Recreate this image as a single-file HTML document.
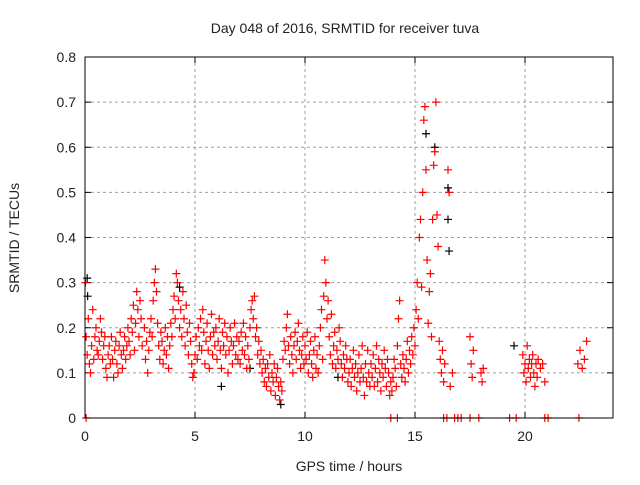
<!DOCTYPE html>
<html><head><meta charset="utf-8"><style>
body{margin:0;background:#fff}
svg text{font-family:"Liberation Sans",sans-serif;font-size:14px;fill:#222}
</style></head><body>
<svg id="c" width="640" height="480" xmlns="http://www.w3.org/2000/svg">
<text x="345" y="33" text-anchor="middle">Day 048 of 2016, SRMTID for receiver tuva</text>
<text x="349" y="471" text-anchor="middle">GPS time / hours</text>
<text transform="translate(19,238) rotate(-90)" text-anchor="middle">SRMTID / TECUs</text>
<g id="grid"></g><g id="marks"></g>
<rect x="85" y="57" width="528" height="361" fill="none" stroke="#000" stroke-width="1"/>
</svg>
<script>
const xTicks=[0,5,10,15,20];
const yTicks=[0,0.1,0.2,0.3,0.4,0.5,0.6,0.7,0.8];
const yTickLabels=["0","0.1","0.2","0.3","0.4","0.5","0.6","0.7","0.8"];
const blackPts=[[0.1,0.31],[0.12,0.27],[15.5,0.63],[16.5,0.44],[16.55,0.37],[16.5,0.51],[19.5,0.16],[8.9,0.03],[7.5,0.11],[11.5,0.09],[15.9,0.6],[4.3,0.29],[6.2,0.07]];
const redPts=[[0.02,0.30],[0.05,0.18],[0.1,0.14],[0.15,0.22],[0.2,0.12],[0.25,0.10],[0.3,0.16],[0.35,0.24],[0.4,0.13],[0.45,0.18],[0.5,0.20],[0.55,0.15],[0.6,0.14],[0.65,0.17],[0.7,0.22],[0.75,0.19],[0.8,0.13],[0.85,0.16],[0.9,0.18],[0.95,0.11],
[1.0,0.09],[1.05,0.14],[1.1,0.16],[1.15,0.12],[1.2,0.18],[1.25,0.13],[1.3,0.09],[1.35,0.15],[1.4,0.17],[1.45,0.12],[1.5,0.10],[1.55,0.16],[1.6,0.19],[1.65,0.14],[1.7,0.11],[1.75,0.15],[1.8,0.18],[1.85,0.13],[1.9,0.16],[1.95,0.20],
[2.0,0.17],[2.05,0.14],[2.1,0.22],[2.15,0.19],[2.2,0.25],[2.25,0.15],[2.3,0.21],[2.35,0.28],[2.4,0.24],[2.45,0.18],[2.5,0.26],[2.55,0.22],[2.6,0.16],[2.7,0.20],[2.75,0.13],[2.8,0.17],[2.85,0.10],[2.9,0.15],[2.95,0.19],
[3.0,0.22],[3.05,0.18],[3.1,0.26],[3.15,0.30],[3.2,0.33],[3.25,0.28],[3.3,0.21],[3.35,0.16],[3.4,0.13],[3.45,0.19],[3.5,0.17],[3.55,0.12],[3.6,0.15],[3.65,0.20],[3.7,0.14],[3.75,0.18],[3.8,0.11],[3.85,0.16],[3.9,0.21],[3.95,0.18],
[4.0,0.24],[4.05,0.27],[4.1,0.22],[4.15,0.32],[4.2,0.30],[4.25,0.26],[4.3,0.20],[4.35,0.24],[4.4,0.18],[4.45,0.28],[4.5,0.22],[4.55,0.16],[4.6,0.25],[4.65,0.19],[4.7,0.14],[4.75,0.21],[4.8,0.17],[4.85,0.12],[4.9,0.09],[4.95,0.10],
[5.0,0.14],[5.05,0.18],[5.1,0.13],[5.15,0.20],[5.2,0.16],[5.25,0.22],[5.3,0.15],[5.35,0.24],[5.4,0.19],[5.45,0.12],[5.5,0.17],[5.55,0.21],[5.6,0.15],[5.65,0.11],[5.7,0.18],[5.75,0.23],[5.8,0.14],[5.85,0.19],[5.9,0.16],[5.95,0.20],
[6.0,0.13],[6.05,0.17],[6.1,0.22],[6.15,0.15],[6.2,0.11],[6.25,0.19],[6.3,0.16],[6.35,0.21],[6.4,0.14],[6.45,0.18],[6.5,0.10],[6.55,0.15],[6.6,0.20],[6.65,0.17],[6.7,0.12],[6.75,0.16],[6.8,0.21],[6.85,0.14],[6.9,0.18],[6.95,0.13],
[7.0,0.17],[7.05,0.12],[7.1,0.19],[7.15,0.15],[7.2,0.21],[7.25,0.14],[7.3,0.18],[7.35,0.11],[7.4,0.16],[7.45,0.13],[7.5,0.20],[7.55,0.24],[7.6,0.26],[7.65,0.22],[7.7,0.27],[7.75,0.18],[7.8,0.20],[7.85,0.14],[7.9,0.17],[7.95,0.12],
[8.0,0.15],[8.05,0.10],[8.1,0.13],[8.15,0.08],[8.2,0.11],[8.25,0.07],[8.3,0.12],[8.35,0.09],[8.4,0.14],[8.45,0.06],[8.5,0.10],[8.55,0.08],[8.6,0.12],[8.65,0.05],[8.7,0.09],[8.75,0.11],[8.8,0.07],[8.85,0.04],[8.9,0.08],[8.95,0.06],
[9.0,0.13],[9.05,0.17],[9.1,0.15],[9.15,0.20],[9.2,0.23],[9.25,0.16],[9.3,0.12],[9.35,0.18],[9.4,0.14],[9.45,0.10],[9.5,0.16],[9.55,0.19],[9.6,0.13],[9.65,0.17],[9.7,0.21],[9.75,0.15],[9.8,0.11],[9.85,0.14],[9.9,0.18],[9.95,0.12],
[10.0,0.16],[10.05,0.13],[10.1,0.19],[10.15,0.10],[10.2,0.14],[10.25,0.17],[10.3,0.12],[10.35,0.09],[10.4,0.15],[10.45,0.18],[10.5,0.11],[10.55,0.14],[10.6,0.10],[10.65,0.16],[10.7,0.20],[10.75,0.24],[10.8,0.13],[10.85,0.27],[10.9,0.35],[10.95,0.30],
[11.0,0.22],[11.05,0.26],[11.1,0.18],[11.15,0.14],[11.2,0.23],[11.25,0.12],[11.3,0.16],[11.35,0.19],[11.4,0.11],[11.45,0.15],[11.5,0.13],[11.55,0.20],[11.6,0.17],[11.65,0.12],[11.7,0.09],[11.75,0.14],[11.8,0.11],[11.85,0.16],[11.9,0.13],[11.95,0.08],
[12.0,0.10],[12.05,0.13],[12.1,0.07],[12.15,0.11],[12.2,0.15],[12.25,0.09],[12.3,0.12],[12.35,0.06],[12.4,0.10],[12.45,0.14],[12.5,0.08],[12.55,0.11],[12.6,0.16],[12.65,0.09],[12.7,0.05],[12.75,0.12],[12.8,0.08],[12.85,0.15],[12.9,0.10],[12.95,0.07],
[13.0,0.12],[13.05,0.09],[13.1,0.14],[13.15,0.07],[13.2,0.11],[13.25,0.16],[13.3,0.08],[13.35,0.13],[13.4,0.10],[13.45,0.06],[13.5,0.12],[13.55,0.09],[13.6,0.15],[13.65,0.11],[13.7,0.07],[13.75,0.13],[13.8,0.10],[13.85,0.05],[13.9,0.08],[13.95,0.06],
[14.0,0.09],[14.05,0.13],[14.1,0.11],[14.15,0.07],[14.2,0.16],[14.25,0.22],[14.3,0.26],[14.35,0.12],[14.4,0.09],[14.45,0.14],[14.5,0.11],[14.55,0.08],[14.6,0.13],[14.65,0.17],[14.7,0.10],[14.75,0.15],[14.8,0.12],[14.85,0.18],[14.9,0.14],[14.95,0.20],
[15.0,0.16],[15.05,0.24],[15.1,0.30],[15.15,0.22],[15.2,0.40],[15.25,0.44],[15.3,0.29],[15.35,0.50],[15.4,0.66],[15.45,0.69],[15.5,0.55],[15.55,0.35],[15.6,0.21],[15.65,0.28],[15.7,0.32],[15.75,0.18],[15.8,0.44],[15.85,0.56],[15.9,0.59],[15.95,0.70],
[16.0,0.45],[16.05,0.38],[16.1,0.17],[16.15,0.13],[16.2,0.10],[16.25,0.15],[16.3,0.08],[16.35,0.12],[16.5,0.55],[16.55,0.50],[16.6,0.07],[16.7,0.10],[17.5,0.18],[17.55,0.12],[17.6,0.09],[17.65,0.15],[18.0,0.10],[18.05,0.08],[18.1,0.11],
[19.9,0.14],[19.95,0.10],[20.0,0.12],[20.05,0.08],[20.1,0.16],[20.15,0.11],[20.2,0.13],[20.25,0.09],[20.3,0.12],[20.35,0.14],[20.4,0.10],[20.45,0.07],[20.5,0.12],[20.55,0.09],[20.6,0.13],[20.7,0.11],[20.8,0.12],[20.9,0.08],
[22.4,0.12],[22.5,0.15],[22.6,0.11],[22.7,0.13],[22.8,0.17],
[0.05,0],[13.9,0],[14.2,0],[16.3,0],[16.45,0],[16.8,0],[16.95,0],[17.1,0],[17.5,0],[17.9,0],[19.3,0],[19.6,0],[20.9,0],[21.05,0],[22.45,0]];
const X0=85,X1=613,Y0=418,Y1=57,XMAX=24,YMAX=0.8;
const xs=t=>X0+(X1-X0)*t/XMAX, ys=v=>Y0-(Y0-Y1)*v/YMAX;
const NS="http://www.w3.org/2000/svg";
const grid=document.getElementById('grid'), marks=document.getElementById('marks');
function mk(tag,attrs,parent){const e=document.createElementNS(NS,tag);for(const k in attrs)e.setAttribute(k,attrs[k]);parent.appendChild(e);return e;}
xTicks.forEach(t=>{const x=xs(t);
 if(t>0){const g=mk('line',{x1:x,x2:x,y1:Y1,y2:Y0,stroke:'#a0a0a0','stroke-dasharray':'3,3'},grid);
 
 }
 mk('line',{x1:x,x2:x,y1:Y0,y2:Y0-6,stroke:'#000'},grid);mk('line',{x1:x,x2:x,y1:Y1,y2:Y1+6,stroke:'#000'},grid);
 const tx=mk('text',{x:x,y:Y0+23,'text-anchor':'middle'},grid);tx.textContent=t;
 
 });
yTicks.forEach((v,i)=>{const y=ys(v);
 if(v>0&&v<YMAX){const g=mk('line',{x1:X0,x2:X1,y1:y,y2:y,stroke:'#a0a0a0','stroke-dasharray':'3,3'},grid);
 
 }
 mk('line',{x1:X0,x2:X0+6,y1:y,y2:y,stroke:'#000'},grid);mk('line',{x1:X1,x2:X1-6,y1:y,y2:y,stroke:'#000'},grid);
 const tx=mk('text',{x:X0-9,y:y+5,'text-anchor':'end'},grid);tx.textContent=yTickLabels[i];
 
 });
function plus(p,color,name){const x=xs(p[0]),y=ys(p[1]);
 const e=mk('path',{d:`M${x-4},${y}H${x+4}M${x},${y-4}V${y+4}`,stroke:color,'stroke-width':1.2,fill:'none'},marks);
 
 }
blackPts.forEach(p=>plus(p,'#000','black-point'));
redPts.forEach(p=>plus(p,'#ff0000','red-point'));
</script>
</body></html>
